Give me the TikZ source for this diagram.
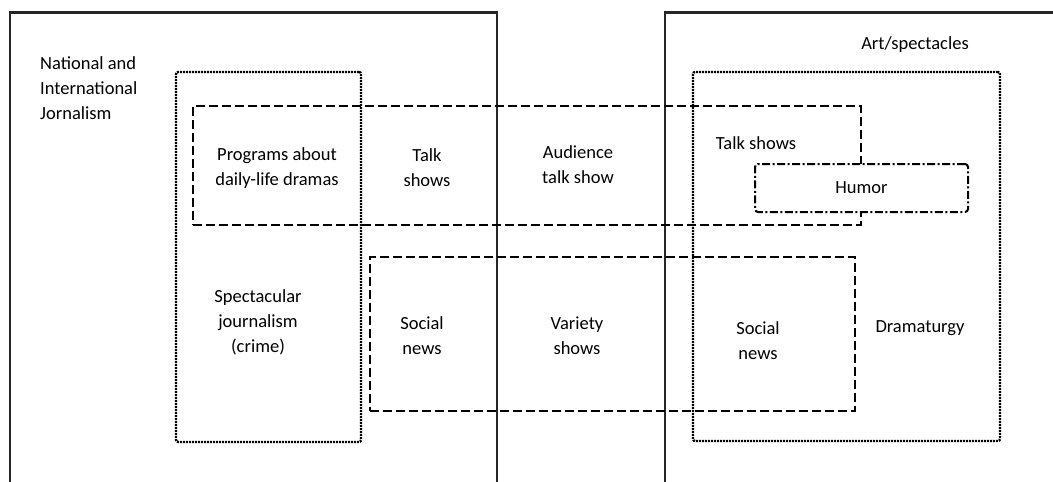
\documentclass[tikz,border=0pt]{standalone}
\usepackage{fontspec}
\setmainfont{Carlito}
\begin{document}
\begin{tikzpicture}[x=1pt,y=-1pt,
  solidline/.style={line width=2.4pt,black!85},
  dotbox/.style={draw,line width=2.4pt,dash pattern=on 2pt off 1pt,rounded corners=2pt,inner sep=0pt},
  dashbox/.style={draw,line width=2pt,dash pattern=on 9pt off 4pt,inner sep=0pt},
  dashdotbox/.style={draw,line width=2pt,dash pattern=on 8pt off 2.5pt on 2pt off 2.5pt,rounded corners=3pt,fill=white,inner sep=0pt},
  lbl/.style={font=\fontsize{18.5}{25}\selectfont,align=center,inner sep=0pt}]
\useasboundingbox (0,0) rectangle (1053,482);
% solid frames
\coordinate (l1) at (10,482); \coordinate (l2) at (10,12.5);
\coordinate (l3) at (497,12.5); \coordinate (l4) at (497,482);
\coordinate (r1) at (665,482); \coordinate (r2) at (665,12.5);
\coordinate (r3) at (1053,12.5);
\draw[solidline] (l1) -- (l2) -- (l3) -- (l4);
\draw[solidline] (r1) -- (r2) -- (r3);
% boxes
\node[dotbox,minimum width=185pt,minimum height=370pt] (dl) at (268.5,257) {};
\node[dotbox,minimum width=307pt,minimum height=369pt] (dr) at (846.5,256.5) {};
\node[dashbox,minimum width=668pt,minimum height=119pt] (dt) at (527,165.5) {};
\node[dashbox,minimum width=485pt,minimum height=154pt] (db) at (612.5,334) {};
\node[dashdotbox,minimum width=213pt,minimum height=48pt] (hum) at (861.5,188) {};
% labels
\node[lbl,align=left,anchor=west] (nat) at (40,88) {National and\\International\\Jornalism};
\node[lbl] (art) at (915,45) {Art/spectacles};
\node[lbl] (prog) at (277,168) {Programs about\\daily-life dramas};
\node[lbl] (talk1) at (427,168) {Talk\\shows};
\node[lbl] (aud) at (578,165) {Audience\\talk show};
\node[lbl] (talk2) at (756,143) {Talk shows};
\node[lbl] (humor) at (hum) {Humor};
\node[lbl] (spec) at (258,322) {Spectacular\\journalism\\(crime)};
\node[lbl] (soc1) at (422,336) {Social\\news};
\node[lbl] (var) at (577,336) {Variety\\shows};
\node[lbl] (soc2) at (758,341) {Social\\news};
\node[lbl] (dram) at (920,328) {Dramaturgy};
\end{tikzpicture}
\end{document}
